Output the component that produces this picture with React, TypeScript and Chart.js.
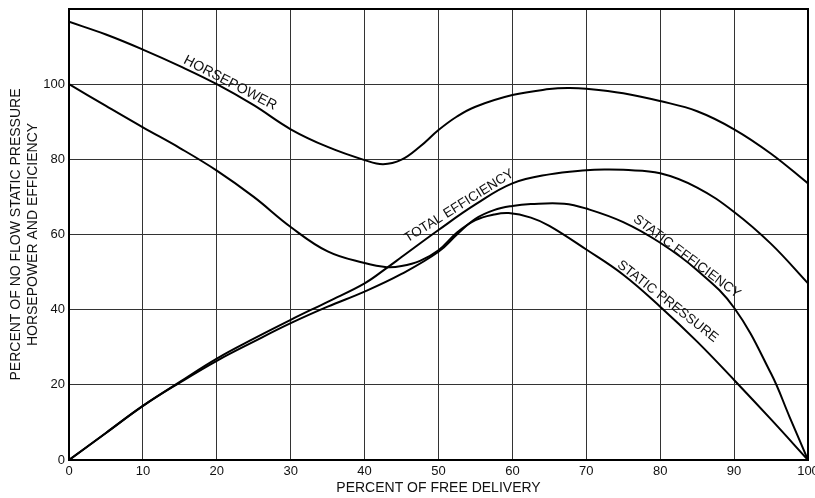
import { useEffect, useRef } from "react";
import { Chart, registerables } from "chart.js";

Chart.register(...registerables);

// ---- data ----
const hpX = [0, 5, 10, 15, 20, 25, 30, 35, 40, 42.5, 45, 47.5, 50, 52.5, 55, 60, 65, 67.5, 70, 75, 80, 85, 90, 95, 100];
const hpY = [116.6, 113.2, 109.2, 104.8, 100, 94.4, 88, 83.3, 79.8, 78.7, 79.9, 83.4, 87.8, 91.4, 94, 97.1, 98.7, 99, 98.8, 97.6, 95.5, 92.8, 88, 81.5, 73.6];

const spX = [0, 5, 10, 15, 20, 25, 30, 35, 40, 43, 45, 47.5, 50, 52.5, 55, 57.5, 59.5, 62.5, 65, 70, 75, 80, 85, 90, 95, 100];
const spY = [100, 94.2, 88.5, 83, 77, 70, 62, 55.5, 52.4, 51.3, 51.6, 53, 55.8, 60.5, 63.8, 65.3, 65.7, 64.5, 62.3, 56, 49.3, 40.8, 31.5, 21.3, 10.8, 0];

const teX = [0, 5, 10, 15, 20, 25, 30, 35, 40, 43.2, 45, 50, 55, 60, 65, 70, 72.5, 75, 80, 85, 90, 95, 100];
const teY = [0, 7.2, 14.4, 20.8, 27, 32.3, 37.3, 42.1, 47, 51.4, 54, 61.2, 68, 73.6, 76, 77.1, 77.3, 77.2, 76.3, 72.5, 66, 57.5, 47];

const seX = [0, 5, 10, 15, 20, 25, 30, 35, 40, 45, 50, 52.5, 55, 57.5, 60, 62.5, 67, 70, 75, 80, 85, 90, 95, 97.5, 100];
const seY = [0, 7.2, 14.4, 20.6, 26.4, 31.5, 36.4, 40.8, 44.8, 49.5, 55.4, 60, 64.2, 66.5, 67.6, 68.1, 68.2, 66.9, 63.3, 57.8, 50.5, 40.5, 23, 11.5, 0];

const curveLabelText = ["HORSEPOWER", "TOTAL EFFICIENCY", "STATIC EFFICIENCY", "STATIC PRESSURE"];
const curveLabelX = [21.8, 52.8, 83.6, 81.0];
const curveLabelY = [100.3, 67.6, 54.1, 42.2];
const curveLabelAngle = [27.5, -32, 36.7, 38];
const curveLabelSize = [14, 13.5, 13.5, 13.5];

const xTitle = "PERCENT OF FREE DELIVERY";
const yTitle = ["PERCENT OF NO FLOW STATIC PRESSURE", "HORSEPOWER AND EFFICIENCY"];

const FONT = "'Liberation Sans', Arial, Helvetica, sans-serif";

const zip = (xs: number[], ys: number[]) => xs.map((x, i) => ({ x, y: ys[i] }));

const framePlugin = {
  id: "frameAndLabels",
  afterDatasetsDraw(chart: any) {
    const { ctx, chartArea: a, scales } = chart;
    ctx.save();
    ctx.strokeStyle = "#000";
    ctx.lineWidth = 2;
    ctx.strokeRect(a.left, a.top, a.right - a.left, a.bottom - a.top);
    ctx.fillStyle = "#111";
    ctx.textAlign = "center";
    ctx.textBaseline = "middle";
    curveLabelText.forEach((t, i) => {
      const px = scales.x.getPixelForValue(curveLabelX[i]);
      const py = scales.y.getPixelForValue(curveLabelY[i]);
      ctx.save();
      ctx.font = `${curveLabelSize[i]}px ${FONT}`;
      ctx.translate(px, py);
      ctx.rotate((curveLabelAngle[i] * Math.PI) / 180);
      ctx.fillText(t, 0, 0);
      ctx.restore();
    });
    ctx.restore();
  },
};

export default function App() {
  const ref = useRef<HTMLCanvasElement | null>(null);

  useEffect(() => {
    if (!ref.current) return;
    const line = (name: string, xs: number[], ys: number[]) => ({
      label: name,
      data: zip(xs, ys),
      borderColor: "#000",
      borderWidth: 2,
      pointRadius: 0,
      fill: false,
      tension: 0.4,
    });
    const chart = new Chart(ref.current, {
      type: "line",
      data: {
        datasets: [
          line("Horsepower", hpX, hpY),
          line("Static pressure", spX, spY),
          line("Total efficiency", teX, teY),
          line("Static efficiency", seX, seY),
        ],
      },
      options: {
        responsive: false,
        animation: false,
        devicePixelRatio: 1,
        layout: { padding: { top: 9, right: 7, left: 0, bottom: 0 } },
        plugins: { legend: { display: false }, tooltip: { enabled: false } },
        scales: {
          x: {
            type: "linear",
            min: 0,
            max: 100,
            ticks: { stepSize: 10, padding: 4, color: "#111", font: { family: FONT, size: 13 } },
            grid: { color: "#333", lineWidth: 1, drawTicks: false },
            border: { display: false },
            title: {
              display: true,
              text: xTitle,
              color: "#111",
              font: { family: FONT, size: 14 },
              padding: { top: 0, bottom: 1 },
            },
            afterFit: (s: any) => {
              s.height = 38;
              s.paddingLeft = 0;
              s.paddingRight = 0;
            },
          },
          y: {
            type: "linear",
            min: 0,
            max: 120,
            ticks: {
              stepSize: 20,
              padding: 4,
              color: "#111",
              font: { family: FONT, size: 13 },
              callback: (v: any) => (v === 120 ? "" : String(v)),
            },
            grid: { color: "#333", lineWidth: 1, drawTicks: false },
            border: { display: false },
            title: {
              display: true,
              text: yTitle,
              color: "#111",
              font: { family: FONT, size: 14 },
              padding: { top: 8, bottom: 0 },
            },
            afterFit: (s: any) => {
              s.width = 69;
              s.paddingTop = 0;
              s.paddingBottom = 0;
            },
          },
        },
      },
      plugins: [framePlugin],
    } as any);
    return () => chart.destroy();
  }, []);

  return (
    <div style={{ position: "fixed", left: 0, top: 0, width: 815, height: 498, background: "#fff" }}>
      <canvas ref={ref} width={815} height={498} style={{ display: "block" }} />
    </div>
  );
}
